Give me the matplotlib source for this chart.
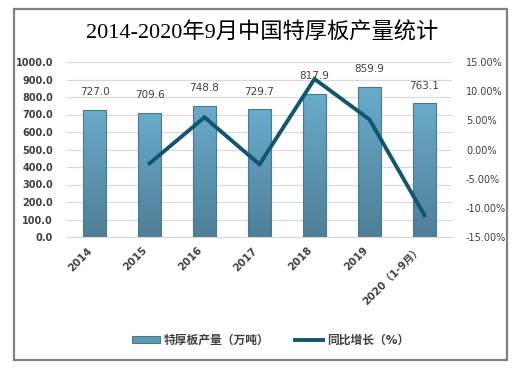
import numpy as np
import matplotlib
matplotlib.use('agg')
import matplotlib.pyplot as plt
from matplotlib.patches import Rectangle, Patch
from matplotlib.lines import Line2D
from matplotlib.colors import LinearSegmentedColormap
from matplotlib.ticker import FormatStrFormatter

plt.rcParams['font.family'] = ['DejaVu Sans', 'Noto Sans CJK SC']

years = ['2014', '2015', '2016', '2017', '2018', '2019', '2020（1-9月）']
output = [727.0, 709.6, 748.8, 729.7, 817.9, 859.9, 763.1]
growth = [None, -2.39, 5.52, -2.55, 12.09, 5.14, -11.3]

title = '2014-2020年9月中国特厚板产量统计'
bar_name = '特厚板产量（万吨）'
line_name = '同比增长（%）'

txt = '#404040'
line_col = '#0f5770'

fig = plt.figure(figsize=(5.25, 3.69), dpi=100)
# outer frame
fig.patches.append(Rectangle((14 / 525, 1 - 360 / 369), 493 / 525, 351 / 369,
                             transform=fig.transFigure, fill=False,
                             edgecolor='#808080', linewidth=1.6))

ax1 = fig.add_axes([67 / 525, 1 - 237 / 369, 385 / 525, 175 / 369])
x = np.arange(len(years))
w = 0.42

cmap = LinearSegmentedColormap.from_list('bar', ['#4f7f98', '#6aabcb'])
grad = np.linspace(0, 1, 100).reshape(-1, 1)
for xi, v in zip(x, output):
    rect = Rectangle((xi - w / 2, 0), w, v, facecolor='none',
                     edgecolor='#4a7890', linewidth=0.8, zorder=3)
    ax1.add_patch(rect)
    im = ax1.imshow(grad, cmap=cmap, origin='lower', aspect='auto',
                    extent=(xi - w / 2, xi + w / 2, 0, v), zorder=2)
    im.set_clip_path(rect)
    ax1.annotate('%.1f' % v, (xi, v), xytext=(0, 9), textcoords='offset points',
                 ha='center', va='bottom', fontsize=7.5, color=txt, zorder=4)

ax1.set_xlim(-0.5, len(years) - 0.5)
ax1.set_ylim(0, 1000)
ax1.set_yticks(np.arange(0, 1001, 100))
ax1.yaxis.set_major_formatter(FormatStrFormatter('%.1f'))
ax1.set_xticks(x)
ax1.set_xticklabels(years, rotation=45, ha='right', va='top',
                    fontsize=7.5, fontweight='bold', color=txt)
ax1.tick_params(axis='both', length=0)
ax1.tick_params(axis='y', pad=10, labelsize=7, labelcolor=txt)
ax1.tick_params(axis='x', pad=6)
for lab in ax1.get_yticklabels():
    lab.set_fontweight('bold')
ax1.grid(axis='y', color='#d9d9d9', linewidth=0.8, zorder=0)
ax1.set_axisbelow(True)
for s in ['top', 'left', 'right']:
    ax1.spines[s].set_visible(False)
ax1.spines['bottom'].set_color('#d9d9d9')

ax2 = ax1.twinx()
gx = [xi for xi, g in zip(x, growth) if g is not None]
gy = [g for g in growth if g is not None]
ax2.plot(gx, gy, color=line_col, linewidth=2.8, solid_joinstyle='miter', zorder=5)
ax2.set_ylim(-15, 15)
ax2.set_yticks(np.arange(-15, 16, 5))
ax2.yaxis.set_major_formatter(FormatStrFormatter('%.2f%%'))
ax2.tick_params(axis='y', length=0, pad=10, labelsize=7, labelcolor=txt)
for s in ax2.spines.values():
    s.set_visible(False)

fig.text(0.5, 1 - 33 / 369, title, ha='center', va='center', fontsize=16,
         family=['Liberation Serif', 'Noto Sans CJK SC'], color='black')

handles = [Patch(facecolor='#5d98b6', edgecolor='#4a7890', linewidth=0.8),
           Line2D([], [], color=line_col, linewidth=2.8)]
leg = fig.legend(handles, [bar_name, line_name], loc='center',
                 bbox_to_anchor=(0.515, 1 - 340 / 369), ncol=2, frameon=False,
                 handlelength=2.4, handleheight=0.6, columnspacing=2.2,
                 handletextpad=0.3,
                 prop={'size': 8.5, 'weight': 'bold',
                       'family': ['DejaVu Sans', 'Noto Sans CJK SC']})
for t in leg.get_texts():
    t.set_color(txt)

fig.savefig('out.png', dpi=100)
